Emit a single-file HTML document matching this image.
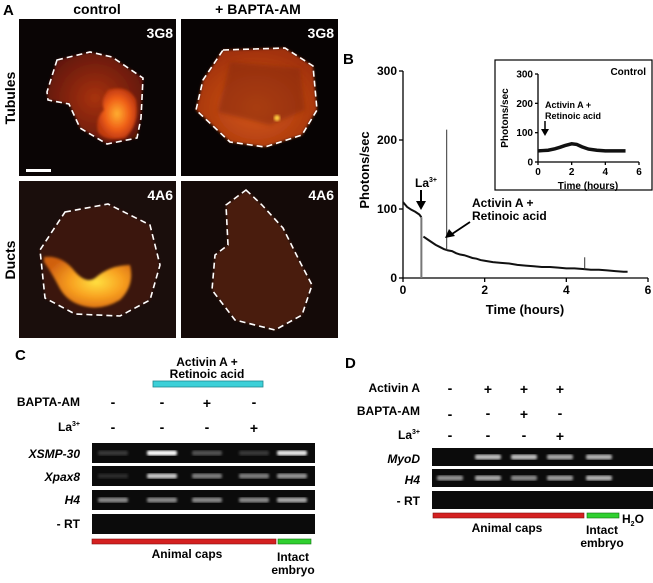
<!DOCTYPE html>
<html><head><meta charset="utf-8"><style>
html,body{margin:0;padding:0;background:#fff;}
body{width:653px;height:578px;overflow:hidden;position:relative;font-family:"Liberation Sans",Arial,sans-serif;font-weight:bold;}
svg text{font-family:"Liberation Sans",Arial,sans-serif;font-weight:bold;}
</style></head><body>
<svg id="fig" width="653" height="578" viewBox="0 0 653 578" xmlns="http://www.w3.org/2000/svg">
<defs>
<radialGradient id="gA1" cx="0.5" cy="0.5" r="0.6"><stop offset="0" stop-color="#a8320f"/><stop offset="1" stop-color="#5a1406"/></radialGradient>
<radialGradient id="gHot" cx="0.5" cy="0.5" r="0.5"><stop offset="0" stop-color="#ffb030"/><stop offset="0.6" stop-color="#f06018"/><stop offset="1" stop-color="#c03a10"/></radialGradient>
<radialGradient id="gHot2" cx="0.6" cy="0.5" r="0.6"><stop offset="0" stop-color="#ffe040"/><stop offset="0.5" stop-color="#f8a020"/><stop offset="1" stop-color="#d06010"/></radialGradient>
<radialGradient id="gB1" cx="0.5" cy="0.6" r="0.6"><stop offset="0" stop-color="#d65a18"/><stop offset="1" stop-color="#a0300c"/></radialGradient>
<filter id="blur"><feGaussianBlur stdDeviation="2"/></filter>
<filter id="blur1"><feGaussianBlur stdDeviation="1.2"/></filter>
</defs>

<!-- Panel A -->
<g>
<text x="3" y="15" font-size="15">A</text>
<text x="97" y="14" font-size="14" text-anchor="middle">control</text>
<text x="258" y="14" font-size="14" text-anchor="middle">+ BAPTA-AM</text>
<text transform="translate(15,98) rotate(-90)" font-size="14" text-anchor="middle">Tubules</text>
<text transform="translate(15,260) rotate(-90)" font-size="14" text-anchor="middle">Ducts</text>

<g>
<rect x="19" y="19" width="157" height="157" fill="#0a0505"/>
<path d="M57,60 L90,52 L112,57 L143,78 L141,118 L137,138 L107,144 L80,128 L69,104 L48,100 L47,92 Z" fill="url(#gA1)" filter="url(#blur1)"/>
<path d="M108,90 Q128,84 136,100 Q140,125 125,138 Q105,142 98,132 Q95,118 104,110 Q100,100 108,90 Z" fill="url(#gHot)" filter="url(#blur1)"/>
<path d="M57,60 L90,52 L112,57 L143,78 L141,118 L137,138 L107,144 L80,128 L69,104 L48,100 L47,92 Z" fill="none" stroke="#fff" stroke-width="1.6" stroke-dasharray="6,4"/>
<rect x="26" y="169" width="25" height="3" fill="#fff"/>
<text x="173" y="38" font-size="14" fill="#fff" text-anchor="end">3G8</text>
</g>
<g>
<rect x="181" y="19" width="157" height="157" fill="#070303"/>
<path d="M223,50 L285,48 L313,66 L317,110 L302,135 L265,147 L230,142 L196,110 L203,80 Z" fill="url(#gB1)" filter="url(#blur1)"/>
<path d="M230,62 L300,68 L305,110 L270,125 L218,112 Z" fill="#8a2a0c" opacity="0.6" filter="url(#blur)"/>
<circle cx="277" cy="118" r="3" fill="#ffd040" filter="url(#blur1)"/>
<path d="M223,50 L285,48 L313,66 L317,110 L302,135 L265,147 L230,142 L196,110 L203,80 Z" fill="none" stroke="#fff" stroke-width="1.6" stroke-dasharray="6,4"/>
<text x="334" y="38" font-size="14" fill="#fff" text-anchor="end">3G8</text>
</g>
<g>
<rect x="19" y="181" width="157" height="157" fill="#1a0e0c"/>
<path d="M65,212 L108,204 L150,225 L160,265 L150,300 L120,316 L75,314 L45,298 L40,250 Z" fill="#3a160c" filter="url(#blur1)"/>
<path d="M44,257 Q60,255 72,268 Q85,285 95,278 Q110,265 130,265 Q135,285 120,300 Q100,312 80,305 Q65,300 58,285 Q50,270 44,262 Z" fill="url(#gHot2)" filter="url(#blur1)"/>
<path d="M65,212 L108,204 L150,225 L160,265 L150,300 L120,316 L75,314 L45,298 L40,250 Z" fill="none" stroke="#fff" stroke-width="1.6" stroke-dasharray="6,4"/>
<text x="173" y="200" font-size="14" fill="#fff" text-anchor="end">4A6</text>
</g>
<g>
<rect x="181" y="181" width="157" height="157" fill="#140a08"/>
<path d="M246,190 L262,205 L283,228 L300,262 L312,285 L302,315 L275,330 L235,320 L212,290 L215,255 L228,245 L226,205 Z" fill="#4a1a0a" filter="url(#blur1)"/>
<path d="M246,190 L262,205 L283,228 L300,262 L312,285 L302,315 L275,330 L235,320 L212,290 L215,255 L228,245 L226,205 Z" fill="none" stroke="#fff" stroke-width="1.6" stroke-dasharray="6,4"/>
<text x="334" y="200" font-size="14" fill="#fff" text-anchor="end">4A6</text>
</g>
</g>

<!-- Panel B -->
<g id="panelB">
<text x="343" y="64" font-size="15">B</text>
<text transform="translate(369,170) rotate(-90)" font-size="13" text-anchor="middle">Photons/sec</text>
<text x="525" y="314" font-size="13" text-anchor="middle">Time (hours)</text>
<g id="mainAxes"></g>
<g id="mainSeries"></g>
<text x="415" y="187" font-size="12">La<tspan font-size="7" dy="-5">3+</tspan></text>
<line x1="421" y1="190" x2="421" y2="203" stroke="#000" stroke-width="2"/>
<polygon points="416,201 426,201 421,210" fill="#000"/>
<text x="472" y="207" font-size="12">Activin A +</text>
<text x="472" y="220" font-size="12">Retinoic acid</text>
<line x1="470" y1="222" x2="452" y2="234" stroke="#000" stroke-width="1.8"/>
<polygon points="445,238 449,229 455,236" fill="#000"/>
<g>
<rect x="495" y="60" width="157" height="130" fill="#fff" stroke="#000" stroke-width="1.2"/>
<text x="646" y="75" font-size="10" text-anchor="end">Control</text>
<text transform="translate(508,118) rotate(-90)" font-size="10" text-anchor="middle">Photons/sec</text>
<text x="588" y="189" font-size="10" text-anchor="middle">Time (hours)</text>
<g id="insetAxes"></g>
<g id="insetSeries"></g>
<text x="545" y="108" font-size="9">Activin A +</text>
<text x="545" y="119" font-size="9">Retinoic acid</text>
<line x1="545" y1="121" x2="545" y2="130" stroke="#000" stroke-width="1.5"/>
<polygon points="541,129 549,129 545,136" fill="#000"/>
</g>
</g>

<!-- Panel C -->
<g>
<text x="15" y="360" font-size="15">C</text>
<text x="207" y="366" font-size="12" text-anchor="middle">Activin A +</text>
<text x="207" y="378" font-size="12" text-anchor="middle">Retinoic acid</text>
<rect x="153" y="381" width="110" height="6" fill="#3cd0d8" stroke="#208890" stroke-width="0.8"/>
<text x="80" y="406" font-size="12" text-anchor="end">BAPTA-AM</text>
<text x="80" y="431" font-size="12" text-anchor="end">La<tspan font-size="7" dy="-5">3+</tspan></text>
<g font-size="14" text-anchor="middle">
<text x="113" y="407">-</text><text x="162" y="407">-</text><text x="207" y="408">+</text><text x="254" y="407">-</text>
<text x="113" y="432">-</text><text x="162" y="432">-</text><text x="207" y="432">-</text><text x="254" y="433">+</text>
</g>
<g font-size="12" text-anchor="end">
<text x="80" y="458" font-style="italic">XSMP-30</text>
<text x="80" y="481" font-style="italic">Xpax8</text>
<text x="80" y="504" font-style="italic">H4</text>
<text x="80" y="528">- RT</text>
</g>
<g id="gelC"></g>
<rect x="92" y="539" width="184" height="5" fill="#d42020" stroke="#801010" stroke-width="0.6"/>
<rect x="278" y="539" width="33" height="5" fill="#30d030" stroke="#107010" stroke-width="0.6"/>
<text x="187" y="558" font-size="12" text-anchor="middle">Animal caps</text>
<text x="293" y="561" font-size="12" text-anchor="middle">Intact</text>
<text x="293" y="574" font-size="12" text-anchor="middle">embryo</text>
</g>

<!-- Panel D -->
<g>
<text x="345" y="368" font-size="15">D</text>
<g font-size="12" text-anchor="end">
<text x="420" y="392">Activin A</text>
<text x="420" y="415">BAPTA-AM</text>
<text x="420" y="439">La<tspan font-size="7" dy="-5">3+</tspan></text>
<text x="420" y="463" font-style="italic">MyoD</text>
<text x="420" y="484" font-style="italic">H4</text>
<text x="420" y="505">- RT</text>
</g>
<g font-size="14" text-anchor="middle">
<text x="450" y="393">-</text><text x="488" y="394">+</text><text x="524" y="394">+</text><text x="560" y="394">+</text>
<text x="450" y="419">-</text><text x="488" y="418">-</text><text x="524" y="419">+</text><text x="560" y="418">-</text>
<text x="450" y="440">-</text><text x="488" y="440">-</text><text x="524" y="440">-</text><text x="560" y="441">+</text>
</g>
<g id="gelD"></g>
<rect x="433" y="513" width="151" height="5" fill="#d42020" stroke="#801010" stroke-width="0.6"/>
<rect x="587" y="513" width="32" height="5" fill="#30d030" stroke="#107010" stroke-width="0.6"/>
<text x="622" y="523" font-size="12">H<tspan font-size="7" dy="3">2</tspan><tspan dy="-3">O</tspan></text>
<text x="507" y="532" font-size="12" text-anchor="middle">Animal caps</text>
<text x="602" y="534" font-size="12" text-anchor="middle">Intact</text>
<text x="602" y="547" font-size="12" text-anchor="middle">embryo</text>
</g>
</svg>
<script>
// Main chart data (panel B)
const mainTimes = [0,0.1,0.2,0.3,0.4,0.45,0.5,0.6,0.7,0.8,0.9,1.0,1.1,1.2,1.3,1.4,1.5,1.6,1.7,1.8,1.9,2.0,2.2,2.4,2.6,2.8,3.0,3.2,3.4,3.6,3.8,4.0,4.2,4.4,4.6,4.8,5.0,5.2,5.4,5.5];
const mainValues = [110,103,99,96,92,88,60,56,52,48,45,42,40,39,36,34,33,31,29,28,26,25,23,22,21,19,18,17,16,16,15,14,14,13,12,12,11,10,9,9];
const spikeTimes = [0.45,1.07,4.45];
const spikeValues = [0,215,30];
const xTicks = [0,2,4,6];
const yTicks = [0,100,200,300];
// Inset data (control)
const insetTimes = [0,0.3,0.6,1.0,1.3,1.6,2.0,2.3,2.6,3.0,3.5,4.0,4.5,5.0,5.2];
const insetValues = [38,39,40,45,50,56,62,60,52,44,40,38,38,38,38];
// Gel band intensities (0..1)
const gelCRows = ['XSMP-30','Xpax8','H4','-RT'];
const gelCBands = [[0.08,1.0,0.2,0.08,0.9],[0.02,0.75,0.4,0.4,0.5],[0.45,0.45,0.45,0.45,0.6],[0,0,0,0,0]];
const gelDRows = ['MyoD','H4','-RT'];
const gelDBands = [[0,0.7,0.7,0.6,0.65,0],[0.5,0.6,0.45,0.55,0.65,0],[0,0,0,0,0,0]];

const NS='http://www.w3.org/2000/svg';
function mk(tag,attrs,parent){const e=document.createElementNS(NS,tag);for(const k in attrs)e.setAttribute(k,attrs[k]);parent.appendChild(e);return e;}

function axes(g,x0,x1,y0,y1,xmax,ymax,fs,tl){
  const sx=v=>x0+(x1-x0)*v/xmax, sy=v=>y0-(y0-y1)*v/ymax;
  mk('line',{x1:x0,y1:y0,x2:x1,y2:y0,stroke:'#000','stroke-width':1.3},g);
  mk('line',{x1:x0,y1:y0,x2:x0,y2:y1,stroke:'#000','stroke-width':1.3},g);
  xTicks.forEach(t=>{
    mk('line',{x1:sx(t),y1:y0,x2:sx(t),y2:y0+tl,stroke:'#000','stroke-width':1.3},g);
    const tx=mk('text',{x:sx(t),y:y0+tl+fs,'font-size':fs,'text-anchor':'middle'},g);tx.textContent=t;
    
    
  });
  yTicks.forEach(t=>{
    mk('line',{x1:x0-tl,y1:sy(t),x2:x0,y2:sy(t),stroke:'#000','stroke-width':1.3},g);
    const tx=mk('text',{x:x0-tl-2,y:sy(t)+fs*0.35,'font-size':fs,'text-anchor':'end'},g);tx.textContent=t;
    
    
  });
  return [sx,sy];
}
// main
const [mx,my]=axes(document.getElementById('mainAxes'),403,648,278,71,6,300,12,4);
const ms=document.getElementById('mainSeries');
const pts1=[],pts2=[];
mainTimes.forEach((t,i)=>{(t<=0.45?pts1:pts2).push(mx(t)+','+my(mainValues[i]));});
let pl=mk('polyline',{points:pts1.join(' '),fill:'none',stroke:'#111','stroke-width':2},ms);


pl=mk('polyline',{points:pts2.join(' '),fill:'none',stroke:'#111','stroke-width':2},ms);


spikeTimes.forEach((t,i)=>{
  const idx=mainTimes.findIndex(v=>v>=t);
  const base=mainValues[Math.max(0,idx)];
  const l=mk('line',{x1:mx(t),x2:mx(t),y1:my(base),y2:my(spikeValues[i]),stroke:i===0?'#777':'#333','stroke-width':i===0?2:1},ms);
  
  
});
// inset
const [ix,iy]=axes(document.getElementById('insetAxes'),538,639,162,74,6,300,10,3);
const ip=mk('polyline',{points:insetTimes.map((t,i)=>ix(t)+','+iy(insetValues[i])).join(' '),fill:'none',stroke:'#111','stroke-width':3.5},document.getElementById('insetSeries'));



function gel(g,x0,x1,rowsY,rowH,lanes,bands,bw,name){
  rowsY.forEach((y,r)=>{
    const rr=mk('rect',{x:x0,y:y,width:x1-x0,height:rowH,fill:'#0b0b0b'},g);
    
    
    bands[r].forEach((v,i)=>{
      if(v<=0)return;
      const c=Math.round(40+215*v);
      const b=mk('rect',{x:lanes[i]-bw/2,y:y+rowH/2-2.5,width:bw,height:5,rx:2,fill:`rgb(${c},${c},${c})`,filter:'url(#blur1)'},g);
      
      
    });
  });
}
gel(document.getElementById('gelC'),92,315,[443,466,490,514],20,[113,162,207,254,292],gelCBands,30,'gel-c');
gel(document.getElementById('gelD'),432,653,[448,469,491],18,[450,488,524,560,599,635],gelDBands,26,'gel-d');
</script>
</body></html>
